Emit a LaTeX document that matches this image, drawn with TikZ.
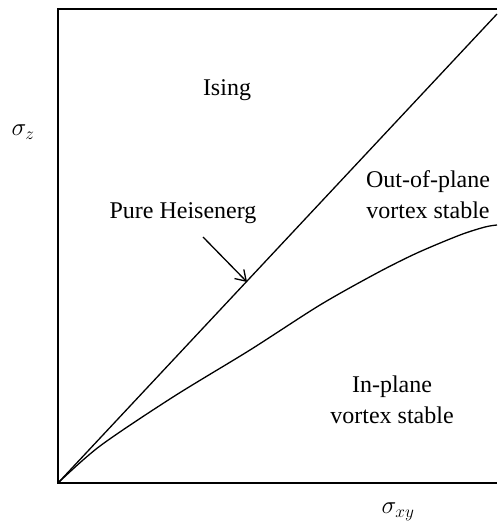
\documentclass[tikz,border=0pt]{standalone}
\usepackage{fontspec}
\setmainfont{Liberation Serif}
\usetikzlibrary{arrows.meta}
\begin{document}
\begin{tikzpicture}[x=1pt,y=-1pt,
  lbl/.style={font=\fontsize{24}{31}\selectfont, align=center, inner sep=0pt},
  mlbl/.style={font=\fontsize{26}{30}\selectfont, inner sep=0pt},
  frame/.style={line width=2pt, line join=miter},
  curve/.style={line width=1.3pt},
  pointer/.style={line width=1.3pt, -{Straight Barb[length=10pt,width=13pt,line width=1.3pt]}}]
\useasboundingbox (0,0) rectangle (497,521);
\coordinate (O) at (58,483);
\coordinate (TR) at (497,14);
\draw[frame] (497,9) -- (58,9) -- (O) -- (497,483);
\draw[curve] (O) -- (TR);
\draw[curve] plot[smooth, tension=0.5] coordinates {(58,483) (100,446) (173,397)
  (250,350) (320,305) (377,273) (417,253) (460,235) (485,227) (497,225)};
\coordinate (A0) at (203,237);
\coordinate (A1) at (247,282);
\draw[pointer] (A0) -- (A1);
\node[lbl] (ising) at (227,90) {Ising};
\node[lbl] (pure) at (183,213) {Pure Heisenerg};
\node[lbl] (out) at (428,195) {Out-of-plane\\vortex stable};
\node[lbl] (in) at (392,400) {In-plane\\vortex stable};
\node[mlbl] (sz) at (23,132) {$\sigma_z$};
\node[mlbl] (sxy) at (398,512) {$\sigma_{xy}$};
\end{tikzpicture}
\end{document}
